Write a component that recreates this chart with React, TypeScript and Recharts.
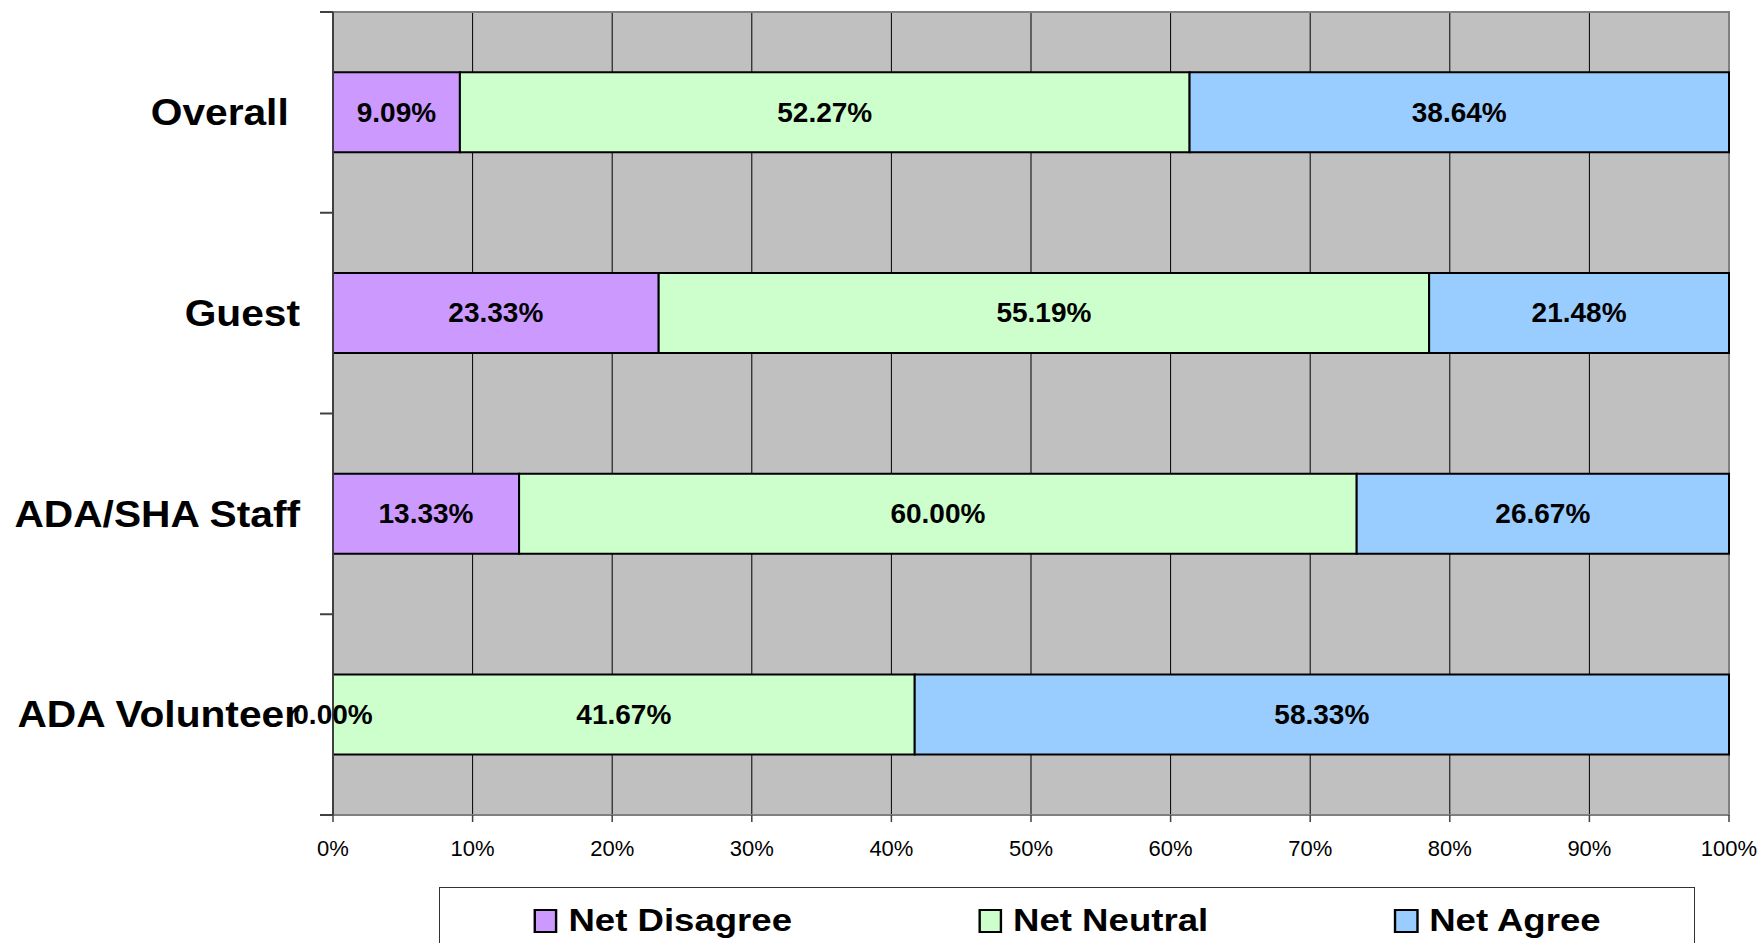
import React from "react";
import {
  BarChart,
  Bar,
  XAxis,
  YAxis,
  CartesianGrid,
  Legend,
  LabelList,
  ReferenceArea,
  ReferenceDot,
} from "recharts";

const categories = ["Overall ", "Guest", "ADA/SHA Staff", "ADA Volunteer"];
const netDisagree = [9.09, 23.33, 13.33, 0.0];
const netNeutral = [52.27, 55.19, 60.0, 41.67];
const netAgree = [38.64, 21.48, 26.67, 58.33];
const xTicks = [0, 10, 20, 30, 40, 50, 60, 70, 80, 90, 100];

const seriesNames = ["Net Disagree", "Net Neutral", "Net Agree"];
const seriesKeys = ["disagree", "neutral", "agree"];
const seriesColors = ["#CC99FF", "#CCFFCC", "#99CCFF"];

const data = categories.map((name, i) => ({
  name,
  disagree: netDisagree[i],
  neutral: netNeutral[i],
  agree: netAgree[i],
}));

const FONT = "Arial, 'Liberation Sans', sans-serif";
const fmt = (v: any) => `${Number(v).toFixed(2)}%`;

const TICK_MARGIN = 33;
const TICK_LEN = 13;

const CatTick = (props: any) => {
  const { x, y, payload, index, visibleTicksCount } = props;
  const half = Number(payload?.offset) || 0;
  const lx1 = x + TICK_MARGIN - TICK_LEN;
  const lx2 = x + TICK_MARGIN;
  const last = index === (visibleTicksCount ?? categories.length) - 1;
  return (
    <g>
      {half > 0 && (
        <line x1={lx1} x2={lx2} y1={y - half} y2={y - half} stroke="#404040" strokeWidth={2} />
      )}
      {half > 0 && last && (
        <line x1={lx1} x2={lx2} y1={y + half} y2={y + half} stroke="#404040" strokeWidth={2} />
      )}
      <text
        transform={`translate(${x},${y}) scale(1.1,1)`}
        x={0}
        y={0}
        textAnchor="end"
        dominantBaseline="central"
        fontFamily={FONT}
        fontSize={37}
        fontWeight="bold"
        fill="#000"
        style={{ whiteSpace: "pre" }}
      >
        {payload.value}
      </text>
    </g>
  );
};

const LabelText = ({ cx, cy, value }: any) => (
  <text
    x={cx}
    y={cy}
    textAnchor="middle"
    dominantBaseline="central"
    fontFamily={FONT}
    fontSize={28}
    fontWeight="bold"
    fill="#000"
  >
    {fmt(value)}
  </text>
);

const renderValueLabel = (props: any) => {
  const { x, y, width, height, value } = props;
  return (
    <LabelText
      cx={Number(x) + Number(width) / 2}
      cy={Number(y) + Number(height) / 2}
      value={value}
    />
  );
};

const makeDotLabel = (value: number) => (props: any) => {
  const vb = props.viewBox || {};
  return (
    <LabelText
      cx={Number(vb.x) + Number(vb.width || 0) / 2}
      cy={Number(vb.y) + Number(vb.height || 0) / 2}
      value={value}
    />
  );
};

const STRETCH = 1.18;

const renderLegend = () => (
  <div
    style={{
      boxSizing: "border-box",
      width: 1256,
      height: 90,
      border: "1.5px solid #333",
      background: "#fff",
      paddingTop: 17,
      fontFamily: FONT,
      overflow: "hidden",
    }}
  >
    <div
      style={{
        display: "flex",
        justifyContent: "center",
        alignItems: "flex-start",
        gap: 186 / STRETCH,
        transform: `scaleX(${STRETCH})`,
        transformOrigin: "center",
      }}
    >
      {seriesNames.map((n, i) => (
        <div key={n} style={{ display: "flex", alignItems: "center", height: 31 }}>
          <span
            style={{
              display: "inline-block",
              boxSizing: "border-box",
              width: 24 / STRETCH,
              height: 24,
              border: "2px solid #000",
              background: seriesColors[i],
              marginRight: 11 / STRETCH,
            }}
          />
          <span
            style={{
              fontSize: 31,
              lineHeight: "31px",
              fontWeight: "bold",
              color: "#000",
              whiteSpace: "nowrap",
            }}
          >
            {n}
          </span>
        </div>
      ))}
    </div>
  </div>
);

export default function App() {
  return (
    <div
      style={{
        position: "absolute",
        left: 0,
        top: 0,
        width: 1761,
        height: 943,
        overflow: "hidden",
        background: "#fff",
      }}
    >
      <BarChart
        width={1761}
        height={943}
        data={data}
        layout="vertical"
        margin={{ top: 12, right: 32, bottom: 88, left: 0 }}
        barCategoryGap="30%"
      >
        <CartesianGrid
          yAxisId="cat"
          horizontal={false}
          vertical={true}
          stroke="#000"
          strokeWidth={1}
          fill="#C0C0C0"
          fillOpacity={1}
        />
        <XAxis
          type="number"
          domain={[0, 100]}
          ticks={xTicks}
          interval={0}
          tickFormatter={(v: number) => `${v}%`}
          tick={{ fontSize: 22, fill: "#000", fontFamily: FONT }}
          tickSize={7}
          tickMargin={18}
          height={40}
          axisLine={{ stroke: "#808080", strokeWidth: 2 }}
          tickLine={{ stroke: "#404040", strokeWidth: 1.5 }}
        />
        <YAxis
          yAxisId="cat"
          type="category"
          dataKey="name"
          width={333}
          tickSize={0}
          tickMargin={TICK_MARGIN}
          interval={0}
          tick={<CatTick />}
          tickLine={false}
          axisLine={{ stroke: "#404040", strokeWidth: 2 }}
        />
        <ReferenceArea
          yAxisId="cat"
          x1={0}
          x2={100}
          fill="none"
          fillOpacity={0}
          stroke="#808080"
          strokeWidth={2}
        />
        {seriesKeys.map((k, i) => (
          <Bar
            key={k}
            yAxisId="cat"
            dataKey={k}
            name={seriesNames[i]}
            stackId="s"
            fill={seriesColors[i]}
            stroke="#000"
            strokeWidth={2}
            isAnimationActive={false}
          >
            <LabelList dataKey={k} content={renderValueLabel} />
          </Bar>
        ))}
        {data
          .filter((d) => d.disagree === 0)
          .map((d) => (
            <ReferenceDot
              key={d.name}
              yAxisId="cat"
              x={d.disagree / 2}
              y={d.name}
              r={1}
              fill="none"
              stroke="none"
              ifOverflow="visible"
              label={makeDotLabel(d.disagree)}
            />
          ))}
        <Legend
          layout="horizontal"
          verticalAlign="middle"
          align="center"
          content={renderLegend}
          wrapperStyle={{ left: 439, top: 887, width: 1256, height: 90 }}
        />
      </BarChart>
    </div>
  );
}
